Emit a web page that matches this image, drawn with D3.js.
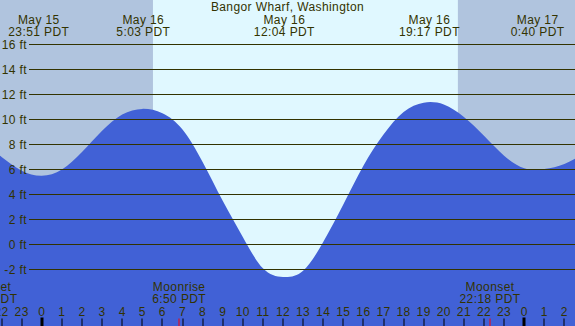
<!DOCTYPE html>
<html lang="en">
<head>
<meta charset="utf-8">
<title>Bangor Wharf tides</title>
<script src="https://d3js.org/d3.v7.min.js"></script>
<style>
  body { margin: 0; }
  svg text { font-family: "Liberation Sans", Arial, sans-serif; font-size: 12px; fill: #333300; letter-spacing: 0.4px; }
</style>
</head>
<body>
<div class="chart"></div>
<script>
// hours relative to midnight May 16 (PDT)
var tideHours = [-3, -2, -1, 0, 1, 2, 3, 4, 5, 6, 7, 8, 9, 10, 11, 12, 13, 14, 15, 16, 17, 18, 19, 20, 21, 22, 23, 24, 25, 26, 27];
var tideFeet  = [8.2, 7.0, 5.9, 5.5, 6.0, 7.4, 9.1, 10.4, 10.85, 10.5, 9.2, 6.6, 3.5, 0.6, -1.9, -2.6, -2.1, 0.2, 3.2, 6.3, 8.8, 10.6, 11.35, 11.2, 10.2, 8.7, 7.1, 6.1, 6.05, 6.45, 7.3];

var extremeHours = [-0.15, 5.05, 12.067, 19.283, 24.667];
var extremeDates = ["May 15", "May 16", "May 16", "May 16", "May 17"];
var extremeTimes = ["23:51 PDT", "5:03 PDT", "12:04 PDT", "19:17 PDT", "0:40 PDT"];

var sunHours = [5.53, 20.7];   // sunrise, sunset

var moonHours  = [-2.73, 6.833, 22.3];
var moonLabels = ["Moonset", "Moonrise", "Moonset"];
var moonTimes  = ["21:16 PDT", "6:50 PDT", "22:18 PDT"];

var feetTicks = [-2, 0, 2, 4, 6, 8, 10, 12, 14, 16];
var hourTicks = d3.range(-2, 27);

var width = 575, height = 326;

var svg = d3.select(".chart").append("svg")
    .attr("width", width)
    .attr("height", height);

var x = d3.scaleLinear().domain([0, 24]).range([41.8, 524.2]);
var y = d3.scaleLinear().domain([-2, 16]).range([269.5, 44.5]);

// night / day background
svg.append("rect").attr("x", 0).attr("y", 0).attr("width", width).attr("height", height)
    .attr("fill", "#b0c4de");
svg.append("rect")
    .attr("x", x(sunHours[0])).attr("y", 0)
    .attr("width", x(sunHours[1]) - x(sunHours[0])).attr("height", height)
    .attr("fill", "#e0f8ff");

// water
var area = d3.area()
    .x(function(d, i) { return x(tideHours[i]); })
    .y0(height)
    .y1(function(d) { return y(d); })
    .curve(d3.curveNatural);

svg.append("path")
    .datum(tideFeet)
    .attr("d", area)
    .attr("fill", "#4161d6");

// grid lines + labels
svg.selectAll(".grid")
    .data(feetTicks)
    .enter().append("line")
    .attr("class", "grid")
    .attr("x1", 29).attr("x2", width)
    .attr("y1", function(d) { return y(d); })
    .attr("y2", function(d) { return y(d); })
    .attr("stroke", "#333300")
    .attr("stroke-width", 1);

svg.selectAll(".flabel")
    .data(feetTicks)
    .enter().append("text")
    .attr("class", "flabel")
    .attr("x", 27)
    .attr("y", function(d) { return y(d) + 4; })
    .attr("text-anchor", "end")
    .text(function(d) { return d + " ft"; });

// title
svg.append("text")
    .attr("x", width / 2).attr("y", 11)
    .attr("text-anchor", "middle")
    .text("Bangor Wharf, Washington");

// high / low tide labels
var ext = svg.selectAll(".ext")
    .data(extremeHours)
    .enter().append("g")
    .attr("class", "ext")
    .attr("transform", function(d) { return "translate(" + x(d) + ",0)"; });
ext.append("text").attr("y", 23.5).attr("text-anchor", "middle")
    .text(function(d, i) { return extremeDates[i]; });
ext.append("text").attr("y", 36).attr("text-anchor", "middle")
    .text(function(d, i) { return extremeTimes[i]; });

// moon labels
var moon = svg.selectAll(".moon")
    .data(moonHours)
    .enter().append("g")
    .attr("class", "moon")
    .attr("transform", function(d) { return "translate(" + x(d) + ",0)"; });
moon.append("text").attr("y", 291).attr("text-anchor", "middle")
    .text(function(d, i) { return moonLabels[i]; });
moon.append("text").attr("y", 303).attr("text-anchor", "middle")
    .text(function(d, i) { return moonTimes[i]; });

// hour axis
svg.selectAll(".hlabel")
    .data(hourTicks)
    .enter().append("text")
    .attr("class", "hlabel")
    .attr("x", function(d) { return x(d); })
    .attr("y", 316)
    .attr("text-anchor", "middle")
    .text(function(d) { return (d + 24) % 24; });

svg.selectAll(".htick")
    .data(hourTicks)
    .enter().append("rect")
    .attr("class", "htick")
    .attr("x", function(d) { return d % 24 === 0 ? Math.round(x(d)) - 1.5 : Math.round(x(d)) - 0.5; })
    .attr("y", function(d) { return d % 24 === 0 ? 317.5 : 318.5; })
    .attr("width", function(d) { return d % 24 === 0 ? 3 : 1; })
    .attr("height", 10)
    .attr("fill", "#000000");

svg.selectAll(".mtick")
    .data(moonHours)
    .enter().append("rect")
    .attr("class", "mtick")
    .attr("x", function(d) { return Math.round(x(d)) - 0.5; })
    .attr("y", 318.5)
    .attr("width", 1)
    .attr("height", 10)
    .attr("fill", "#ff0000");
</script>
</body>
</html>
